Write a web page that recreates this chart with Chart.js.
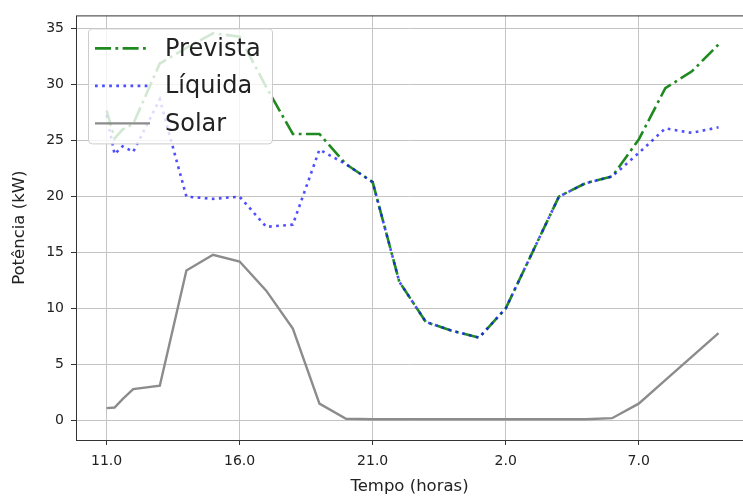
<!DOCTYPE html>
<html>
<head>
<meta charset="utf-8">
<script src="https://cdn.jsdelivr.net/npm/chart.js@4.4.1/dist/chart.umd.min.js"></script>
<style>
  html, body { margin: 0; padding: 0; background: #fff; }
  #wrap { width: 743px; height: 497px; }
</style>
</head>
<body>
<div id="wrap"><canvas id="potChart"></canvas></div>
<script>
// Horas desde as 11.0 (eixo x)
const horas = [0, 0.3, 0.6, 1, 2, 3, 4, 5, 6, 7, 8, 9, 10, 11, 12, 13, 14, 15, 16, 17, 18, 19, 20, 21, 22, 23];
const prevista = [27.7, 25.2, 26.0, 26.5, 31.9, 33.3, 34.6, 34.3, 29.8, 25.6, 25.6, 22.9, 21.3, 12.4, 8.8, 8.0, 7.4, 10.0, 15.0, 20.0, 21.2, 21.8, 25.1, 29.7, 31.2, 33.6];
const liquida = [27.3, 23.8, 24.5, 24.0, 28.7, 20.0, 19.8, 20.0, 17.3, 17.5, 24.2, 22.9, 21.3, 12.4, 8.8, 8.0, 7.4, 10.0, 15.0, 20.0, 21.2, 21.8, 23.9, 26.1, 25.7, 26.2];
const solar = [1.1, 1.15, 1.9, 2.8, 3.1, 13.4, 14.8, 14.2, 11.6, 8.2, 1.5, 0.15, 0.1, 0.1, 0.1, 0.1, 0.1, 0.1, 0.1, 0.1, 0.1, 0.2, 1.5, 3.6, 5.7, 7.8];

const xTicks = [0, 5, 10, 15, 20];
const yTicks = [0, 5, 10, 15, 20, 25, 30, 35];
const horaInicio = 11;

const fonte = "'DejaVu Sans', sans-serif";

function pontos(ys) {
    return horas.map((h, i) => ({ x: h, y: ys[i] }));
}

// moldura do eixo + legenda por cima das linhas (como no matplotlib)
const molduraLegenda = {
    id: 'molduraLegenda',
    afterDatasetsDraw(chart) {
        const { ctx, chartArea: a } = chart;
        ctx.save();
        ctx.strokeStyle = '#333';
        ctx.lineWidth = 1;
        ctx.strokeRect(a.left + 0.5, a.top + 0.5, a.right - a.left, a.bottom - a.top);

        const bx = a.left + 12, by = a.top + 13, bw = 184, bh = 115;
        ctx.beginPath();
        ctx.roundRect(bx + 0.5, by + 0.5, bw, bh, 4);
        ctx.fillStyle = 'rgba(255,255,255,0.8)';
        ctx.fill();
        ctx.strokeStyle = '#cccccc';
        ctx.stroke();

        chart.data.datasets.forEach((ds, i) => {
            const y = by + 20 + i * 37.5;
            ctx.beginPath();
            ctx.setLineDash(ds.borderDash || []);
            ctx.strokeStyle = ds.borderColor;
            ctx.lineWidth = ds.borderWidth;
            ctx.moveTo(bx + 7, y);
            ctx.lineTo(bx + 62, y);
            ctx.stroke();
            ctx.setLineDash([]);
            ctx.fillStyle = '#222';
            ctx.font = '24px ' + fonte;
            ctx.textBaseline = 'middle';
            ctx.textAlign = 'left';
            ctx.fillText(ds.label, bx + 77, y + 1);
        });
        ctx.restore();
    }
};

const ctx = document.getElementById('potChart').getContext('2d');

new Chart(ctx, {
    type: 'line',
    data: {
        datasets: [
            {
                label: 'Prevista',
                data: pontos(prevista),
                borderColor: '#1f8a1f',
                borderWidth: 2.6,
                borderDash: [16, 4.4, 2.8, 4.4],
                pointRadius: 0,
                tension: 0,
                order: 1
            },
            {
                label: 'Líquida',
                data: pontos(liquida),
                borderColor: 'rgba(20,20,255,0.75)',
                borderWidth: 2.6,
                borderDash: [2.7, 4.4],
                pointRadius: 0,
                tension: 0,
                order: 0
            },
            {
                label: 'Solar',
                data: pontos(solar),
                borderColor: '#8c8c8c',
                borderWidth: 2.4,
                pointRadius: 0,
                tension: 0,
                order: 2
            }
        ]
    },
    options: {
        responsive: true,
        maintainAspectRatio: false,
        animation: false,
        layout: { padding: { top: 12, right: 0, bottom: 0, left: 0 } },
        plugins: {
            legend: { display: false },
            tooltip: { enabled: false }
        },
        scales: {
            x: {
                type: 'linear',
                min: -1.15,
                max: 23.92,
                afterFit: (s) => { s.height = 57; },
                afterBuildTicks: (s) => { s.ticks = xTicks.map(v => ({ value: v })); },
                ticks: {
                    color: '#222',
                    font: { size: 14, family: fonte },
                    padding: 8,
                    maxRotation: 0,
                    callback: (v) => ((horaInicio + v) % 24).toFixed(1)
                },
                grid: { color: '#c4c4c4', lineWidth: 1, tickColor: '#333', tickLength: 5 },
                border: { display: false },
                title: {
                    display: true,
                    text: 'Tempo (horas)',
                    color: '#222',
                    font: { size: 16.5, family: fonte },
                    padding: { top: 0, bottom: 0 }
                }
            },
            y: {
                min: -1.75,
                max: 36.2,
                afterFit: (s) => { s.width = 76; },
                afterBuildTicks: (s) => { s.ticks = yTicks.map(v => ({ value: v })); },
                ticks: {
                    color: '#222',
                    font: { size: 14, family: fonte },
                    padding: 7
                },
                grid: { color: '#c4c4c4', lineWidth: 1, tickColor: '#333', tickLength: 5 },
                border: { display: false },
                title: {
                    display: true,
                    text: 'Potência (kW)',
                    color: '#222',
                    font: { size: 16.5, family: fonte },
                    padding: { top: 10, bottom: 0 }
                }
            }
        }
    },
    plugins: [molduraLegenda]
});
</script>
</body>
</html>
